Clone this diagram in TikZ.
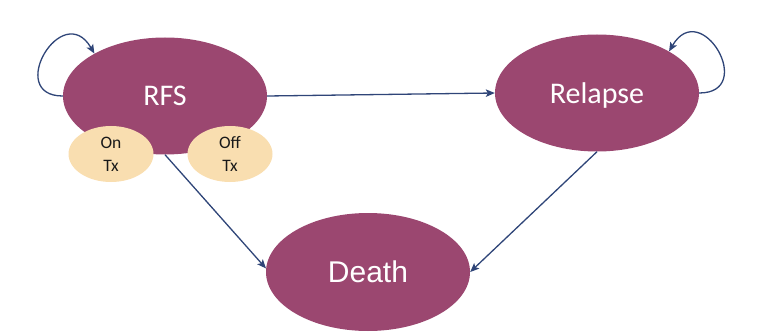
\documentclass[tikz,border=0pt]{standalone}
\usepackage{fontspec}
\newfontfamily\calib{Carlito}
\newfontfamily\arialf{Liberation Sans}
\usetikzlibrary{shapes.geometric,arrows.meta}
\definecolor{plum}{RGB}{155,71,112}
\definecolor{tan}{RGB}{249,222,176}
\definecolor{navy}{RGB}{47,69,120}
\tikzset{
  state/.style={ellipse, fill=plum, inner sep=0pt, minimum width=204pt, minimum height=117pt, text=white, text depth=0pt},
  sub/.style={ellipse, fill=tan, inner sep=0pt, minimum width=85pt, minimum height=56pt, text=black!90, align=center, font=\calib\fontsize{17.5}{23}\selectfont},
  arr/.style={draw=navy, line width=1.3pt, -{Stealth[length=9pt,width=7.5pt,inset=2pt]}}
}
\begin{document}
\begin{tikzpicture}[x=1pt,y=-1pt]
\useasboundingbox (0,0) rectangle (765,334);
\node[state, font=\calib\fontsize{30}{34}\selectfont] (rfs) at (165,96) {RFS};
\node[state, font=\calib\fontsize{30}{34}\selectfont] (relapse) at (597,93) {Relapse};
\node[state, minimum height=118pt, font=\arialf\fontsize{30}{34}\selectfont] (death) at (368,272) {Death};
\draw[arr] (rfs.south) -- (death.178);
\node[sub] (ontx) at (111,154) {On\\Tx};
\node[sub] (offtx) at (230,154) {Off\\Tx};
\draw[arr] (rfs.east) -- (relapse.west);
\draw[arr] (relapse.south) -- (death.east);
\draw[arr] (rfs.180) .. controls +(-58,0) and +(-32,-55) .. (rfs.149);
\draw[arr] (relapse.0) .. controls +(58,0) and +(32,-55) .. (relapse.30);
\end{tikzpicture}
\end{document}
